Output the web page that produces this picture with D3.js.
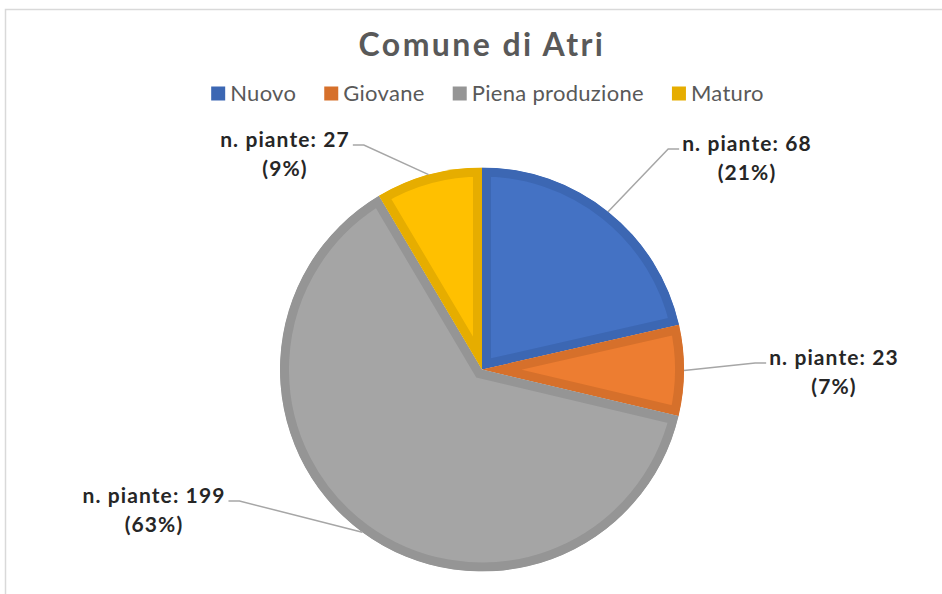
<!DOCTYPE html>
<html>
<head>
<meta charset="utf-8">
<script src="https://cdn.jsdelivr.net/npm/d3@7"></script>
<style>
  html, body { margin: 0; padding: 0; background: #fff; }
  svg { display: block; }
</style>
</head>
<body>
<svg id="chart" width="942" height="594"></svg>
<script>
// ---- data ----
const title = "Comune di Atri";
const categories = ["Nuovo", "Giovane", "Piena produzione", "Maturo"];
const values = [68, 23, 199, 27];
const seriesName = "n. piante";

// ---- styles ----
const fillColors = ["#4472C4", "#ED7D31", "#A5A5A5", "#FFC000"];
const borderColors = ["#3C67B3", "#D6702B", "#959595", "#E6AD00"];
// manual label placement (label centre x, first-line baseline y)
const labelAnchors = [[747, 151], [834, 365], [154, 503], [285, 147]];

const W = 942, H = 594;
const cx = 482, cy = 369.5, R = 202;
const fontFamily = "Lato, 'Open Sans', sans-serif";

const svg = d3.select("#chart");

// frame
svg.append("rect")
  .attr("x", 5.5).attr("y", 9.5)
  .attr("width", W + 10).attr("height", H + 10)
  .attr("fill", "#fff").attr("stroke", "#D9D9D9").attr("stroke-width", 1.5);

// title
svg.append("text")
  .attr("x", 482).attr("y", 56)
  .attr("text-anchor", "middle")
  .attr("font-family", fontFamily)
  .attr("font-weight", "bold")
  .attr("font-size", 32)
  .attr("letter-spacing", 2.4)
  .attr("fill", "#595959")
  .text(title);

// legend
const legend = svg.append("g");
const legItems = legend.selectAll("g").data(categories).join("g");
legItems.append("rect")
  .attr("width", 14).attr("height", 14)
  .attr("y", 86.5)
  .attr("fill", (d, i) => borderColors[i]);
legItems.append("text")
  .attr("x", 19).attr("y", 100.5)
  .attr("font-family", fontFamily)
  .attr("font-size", 22)
  .attr("letter-spacing", 0.3)
  .attr("fill", "#595959")
  .text(d => d);
let xpos = 0;
const itemGap = 28;
const offsets = [];
legItems.each(function () {
  const w = 19 + d3.select(this).select("text").node().getComputedTextLength();
  offsets.push(xpos);
  xpos += w + itemGap;
});
const legW = xpos - itemGap;
const legX0 = 487.5 - legW / 2;
legItems.attr("transform", (d, i) => `translate(${legX0 + offsets[i]},0)`);

// pie
const pie = d3.pie().sort(null).value(d => d).startAngle(0).endAngle(2 * Math.PI);
const arcs = pie(values);
const arc = d3.arc().innerRadius(0).outerRadius(R);
const total = d3.sum(values);

const g = svg.append("g").attr("transform", `translate(${cx},${cy})`);
const defs = svg.append("defs");

arcs.forEach((a, i) => {
  defs.append("clipPath").attr("id", "clip" + i)
    .append("path").attr("d", arc(a));
  g.append("path")
    .attr("d", arc(a))
    .attr("fill", fillColors[i])
    .attr("stroke", borderColors[i])
    .attr("stroke-width", 18)
    .attr("stroke-linejoin", "miter")
    .attr("clip-path", `url(#clip${i})`);
});

// labels + leader lines
const pctFmt = d3.format(".0%");
const labelG = svg.append("g");
const leaderG = svg.append("g");
arcs.forEach((a, i) => {
  const [lx, ly] = labelAnchors[i];
  const t = labelG.append("text")
    .attr("text-anchor", "middle")
    .attr("font-family", fontFamily)
    .attr("font-weight", "bold")
    .attr("font-size", 21)
    .attr("letter-spacing", 1.1)
    .attr("fill", "#262626");
  t.append("tspan").attr("x", lx).attr("y", ly).text(`${seriesName}: ${values[i]}`);
  t.append("tspan").attr("x", lx).attr("y", ly + 29).text(`(${pctFmt(values[i] / total)})`);

  const w = t.select("tspan").node().getComputedTextLength();
  const mid = (a.startAngle + a.endAngle) / 2;
  const ex = cx + R * Math.sin(mid), ey = cy - R * Math.cos(mid);
  const onRight = lx > ex;
  const edge = onRight ? lx - w / 2 : lx + w / 2;
  const dir = onRight ? -1 : 1;
  const yl = ly - 2;
  const pts = [[ex, ey], [edge + dir * 14, yl], [edge + dir * 3, yl]];
  leaderG.append("path")
    .attr("d", d3.line()(pts))
    .attr("fill", "none")
    .attr("stroke", "#A6A6A6")
    .attr("stroke-width", 1.5);
});
</script>
</body>
</html>
